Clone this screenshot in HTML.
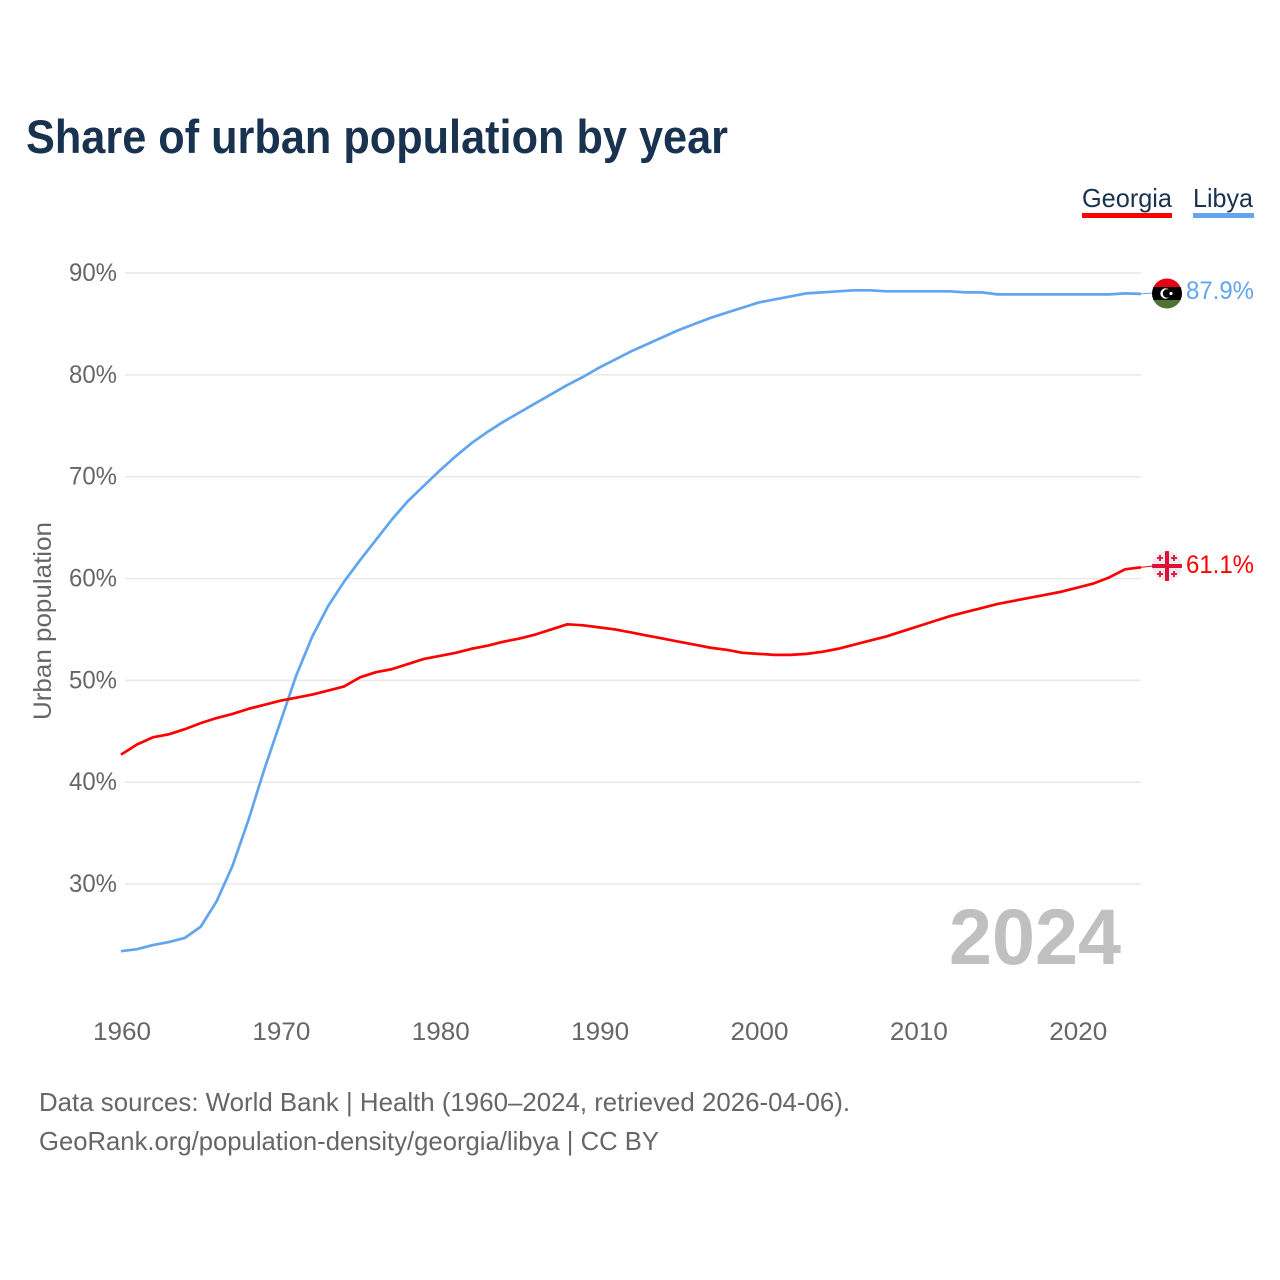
<!DOCTYPE html>
<html lang="en">
<head>
<meta charset="utf-8">
<title>Share of urban population by year</title>
<style>
html,body{margin:0;padding:0;background:#fff;}
svg{display:block;font-family:"Liberation Sans",Arial,sans-serif;}
</style>
</head>
<body>
<svg id="chart" xmlns="http://www.w3.org/2000/svg" width="1280" height="1280" viewBox="0 0 1280 1280">
  <rect width="1280" height="1280" fill="#fff"/>
  <text x="26" y="153" font-size="47" font-weight="700" fill="#18324f" textLength="702" lengthAdjust="spacingAndGlyphs">Share of urban population by year</text>

  <g>
    <text x="1082" y="207" font-size="26" fill="#18324f" textLength="90" lengthAdjust="spacingAndGlyphs">Georgia</text>
    <rect x="1082" y="213" width="90" height="5" fill="#ff0000"/>
  </g>
  <g>
    <text x="1193" y="207" font-size="26" fill="#18324f" textLength="60" lengthAdjust="spacingAndGlyphs">Libya</text>
    <rect x="1193" y="213" width="61" height="5" fill="#60a5ee"/>
  </g>

  <g id="grid"></g>
  <g id="yticks"></g>
  <g id="xticks"></g>
  <text transform="translate(51,621) rotate(-90)" text-anchor="middle" font-size="25" fill="#666" textLength="198" lengthAdjust="spacingAndGlyphs">Urban population</text>

  <text x="949" y="964" font-size="79" font-weight="700" fill="#c0c0c0" textLength="172" lengthAdjust="spacingAndGlyphs">2024</text>

  <g id="series"></g>

  <g id="flag-libya">
    <clipPath id="clip-ly"><circle cx="1167" cy="293.5" r="15"/></clipPath>
    <g clip-path="url(#clip-ly)">
      <rect x="1152" y="278" width="30" height="10" fill="#e70013"/>
      <rect x="1152" y="287" width="30" height="14" fill="#000"/>
      <rect x="1152" y="300" width="30" height="10" fill="#4f7332"/>
      <circle cx="1165.5" cy="293.5" r="5.2" fill="#fff"/>
      <circle cx="1167" cy="293.5" r="4.2" fill="#000"/>
      <circle cx="1171" cy="293.5" r="1.6" fill="#fff"/>
    </g>
  </g>
  <g id="flag-georgia">
    <clipPath id="clip-ge"><circle cx="1167" cy="566" r="15"/></clipPath>
    <g clip-path="url(#clip-ge)">
      <rect x="1152" y="551" width="30" height="30" fill="#f0e8ea"/>
      <rect x="1165" y="551" width="4" height="30" fill="#dc1035"/>
      <rect x="1152" y="564" width="30" height="4" fill="#dc1035"/>
      <path d="M1160 555v6M1157 558h6M1174 555v6M1171 558h6M1160 571v6M1157 574h6M1174 571v6M1171 574h6" stroke="#dc1035" stroke-width="1.8" fill="none"/>
    </g>
  </g>
  <text x="1186" y="299" font-size="25" fill="#60a5ee" textLength="68" lengthAdjust="spacingAndGlyphs" id="value-libya"></text>
  <text x="1186" y="573" font-size="25" fill="#ff0000" textLength="68" lengthAdjust="spacingAndGlyphs" id="value-georgia"></text>

  <text x="39" y="1111" font-size="26" fill="#666" textLength="811" lengthAdjust="spacingAndGlyphs">Data sources: World Bank | Health (1960–2024, retrieved 2026-04-06).</text>
  <text x="39" y="1150" font-size="26" fill="#666" textLength="620" lengthAdjust="spacingAndGlyphs">GeoRank.org/population-density/georgia/libya | CC BY</text>
</svg>
<script>
var startYear = 1960;
var yTicks = [30, 40, 50, 60, 70, 80, 90];
var xTicks = [1960, 1970, 1980, 1990, 2000, 2010, 2020];
var georgiaValues = [42.7,43.7,44.4,44.7,45.2,45.8,46.3,46.7,47.2,47.6,48.0,48.3,48.6,49.0,49.4,50.3,50.8,51.1,51.6,52.1,52.4,52.7,53.1,53.4,53.8,54.1,54.5,55.0,55.5,55.4,55.2,55.0,54.7,54.4,54.1,53.8,53.5,53.2,53.0,52.7,52.6,52.5,52.5,52.6,52.8,53.1,53.5,53.9,54.3,54.8,55.3,55.8,56.3,56.7,57.1,57.5,57.8,58.1,58.4,58.7,59.1,59.5,60.1,60.9,61.1];
var libyaValues = [23.4,23.6,24.0,24.3,24.7,25.8,28.3,31.8,36.3,41.3,45.9,50.5,54.3,57.3,59.7,61.8,63.8,65.8,67.6,69.1,70.6,72.0,73.3,74.4,75.4,76.3,77.2,78.1,79.0,79.8,80.7,81.5,82.3,83.0,83.7,84.4,85.0,85.6,86.1,86.6,87.1,87.4,87.7,88.0,88.1,88.2,88.3,88.3,88.2,88.2,88.2,88.2,88.2,88.1,88.1,87.9,87.9,87.9,87.9,87.9,87.9,87.9,87.9,88.0,87.95];
var georgiaLabel = "61.1%";
var libyaLabel = "87.9%";

var NS = "http://www.w3.org/2000/svg";
function xScale(year){ return 121 + (year - 1960) * (1141 - 121) / 64; }
function yScale(v){ return 273 + (90 - v) * (884 - 273) / 60; }
function make(tag, attrs, parent){
  var el = document.createElementNS(NS, tag);
  for (var k in attrs) el.setAttribute(k, attrs[k]);
  parent.appendChild(el);
  return el;
}
var grid = document.getElementById("grid");
var yG = document.getElementById("yticks");
var xG = document.getElementById("xticks");
var seriesG = document.getElementById("series");

yTicks.forEach(function(t){
  var ln = make("line", {x1:125, x2:1141, y1:yScale(t), y2:yScale(t), stroke:"#e9e9e9", "stroke-width":1.6}, grid);
  
  
  var tx = make("text", {x:117, y:yScale(t)+8, "text-anchor":"end", "font-size":25, fill:"#666", textLength:48, lengthAdjust:"spacingAndGlyphs"}, yG);
  tx.textContent = t + "%";
  
  
});
xTicks.forEach(function(t){
  var tx = make("text", {x:xScale(t)+1, y:1040, "text-anchor":"middle", "font-size":25, fill:"#666", textLength:58, lengthAdjust:"spacingAndGlyphs"}, xG);
  tx.textContent = t;
  
  
});
function pointsFor(values){
  return values.map(function(v, i){ return xScale(startYear + i).toFixed(2) + "," + yScale(v).toFixed(2); }).join(" ");
}
var libyaLine = make("polyline", {points:pointsFor(libyaValues), fill:"none", stroke:"#60a5ee", "stroke-width":2.7, "stroke-linejoin":"round"}, seriesG);


var georgiaLine = make("polyline", {points:pointsFor(georgiaValues), fill:"none", stroke:"#ff0000", "stroke-width":2.7, "stroke-linejoin":"round"}, seriesG);



var lastYear = startYear + libyaValues.length - 1;
var libyaConn = make("line", {x1:xScale(lastYear), x2:1153, y1:yScale(libyaValues[libyaValues.length-1]), y2:293, stroke:"#60a5ee", "stroke-width":1}, seriesG);


var georgiaConn = make("line", {x1:xScale(lastYear), x2:1153, y1:yScale(georgiaValues[georgiaValues.length-1]), y2:566, stroke:"#ff0000", "stroke-width":1}, seriesG);



document.getElementById("value-libya").textContent = libyaLabel;
document.getElementById("value-georgia").textContent = georgiaLabel;
</script>
</body>
</html>
